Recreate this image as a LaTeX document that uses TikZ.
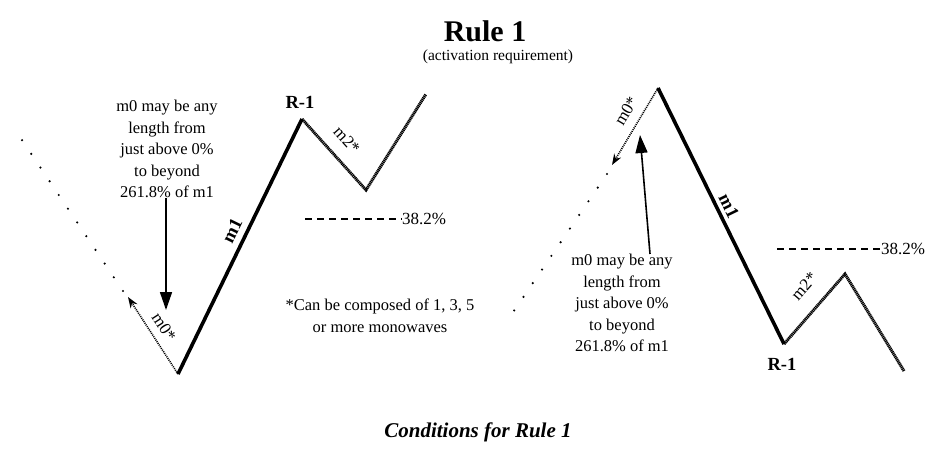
\documentclass[tikz,border=0pt]{standalone}
\usepackage{fontspec}
\setmainfont{Liberation Serif}
\usetikzlibrary{arrows.meta}

\begin{document}
\begin{tikzpicture}[x=1pt,y=-1pt, txt/.style={align=center,inner sep=0pt,font=\fontsize{16.5}{21.5}\selectfont}, lbl/.style={inner sep=0pt,font=\fontsize{17}{18}\selectfont}, bold/.style={inner sep=0pt,font=\bfseries\fontsize{18.5}{20}\selectfont}, wave/.style={line width=3.6pt,line join=miter}, sub/.style={line width=3pt,dash pattern=on 1.2pt off 0.6pt}, ext/.style={line width=1.6pt,dash pattern=on 1pt off 1pt,-{Stealth[length=11pt,width=8pt]}}, trail/.style={line width=2.4pt,line cap=round,dash pattern=on 0pt off 16.5pt}, pnt/.style={line width=1.6pt,-{Triangle[length=18pt,width=12pt]}}, lvl/.style={line width=1.3pt,dash pattern=on 7pt off 5pt}]
\useasboundingbox (0,0) rectangle (933,456);
% titles
\node[inner sep=0pt,font=\bfseries\fontsize{30}{32}\selectfont] (T) at (485,31) {Rule 1};
\node[inner sep=0pt,font=\fontsize{15.5}{18}\selectfont] (S) at (498,57) {(activation requirement)};
\node[inner sep=0pt,font=\bfseries\itshape\fontsize{21}{24}\selectfont] (C) at (478,432) {Conditions for Rule 1};
% left pattern
\coordinate (L0) at (178,374);
\coordinate (L1) at (302,119);
\coordinate (L2) at (366,190);
\coordinate (L3) at (426,94);
\coordinate (La) at (128,297);
\coordinate (Lb) at (123,291);
\coordinate (Lc) at (22,140);
\draw[wave] (L0) -- (L1);
\draw[sub] (L1) -- (L2) -- (L3);
\draw[ext] (L0) -- (La);
\draw[trail] (Lb) -- (Lc);
\node[bold,rotate=64] (Lm1) at (232,231) {m1};
\node[lbl,rotate=-57] (Lm0) at (164,327) {m0*};
\node[lbl,rotate=-48] (Lm2) at (347,140) {m2*};
\node[bold] (LR) at (300,102) {R-1};
\node[txt] (Ln) at (167,149) {m0 may be any\\ length from\\ just above 0\%\\ to beyond\\ 261.8\% of m1};
\coordinate (Lt) at (166,310);
\draw[pnt] (Ln.south -| Lt) -- (Lt);
\coordinate (Ld) at (305,219);
\node[lbl,anchor=west] (Lp) at (402,219) {38.2\%};
\draw[lvl] (Ld) -- (Lp.west);
\node[txt] (N) at (380,316) {*Can be composed of 1, 3, 5\\ or more monowaves};
% right pattern
\coordinate (R0) at (658,88);
\coordinate (R1) at (784,344);
\coordinate (R2) at (845,274);
\coordinate (R3) at (904,371);
\coordinate (Ra) at (612,165);
\coordinate (Rb) at (607,174);
\coordinate (Rc) at (505,324);
\draw[wave] (R0) -- (R1);
\draw[sub] (R1) -- (R2) -- (R3);
\draw[ext] (R0) -- (Ra);
\draw[trail] (Rb) -- (Rc);
\node[bold,rotate=-64] (Rm1) at (729,206) {m1};
\node[lbl,rotate=59] (Rm0) at (626,111) {m0*};
\node[lbl,rotate=49] (Rm2) at (804,286) {m2*};
\node[bold] (RR) at (782,364) {R-1};
\node[txt] (Rn) at (622,303) {m0 may be any\\ length from\\ just above 0\%\\ to beyond\\ 261.8\% of m1};
\coordinate (Rt) at (640,135);
\draw[pnt] ([xshift=28pt]Rn.north) -- (Rt);
\coordinate (Rd) at (777,249);
\node[lbl,anchor=west] (Rp) at (881,249) {38.2\%};
\draw[lvl] (Rd) -- (Rp.west);
\end{tikzpicture}
\end{document}
